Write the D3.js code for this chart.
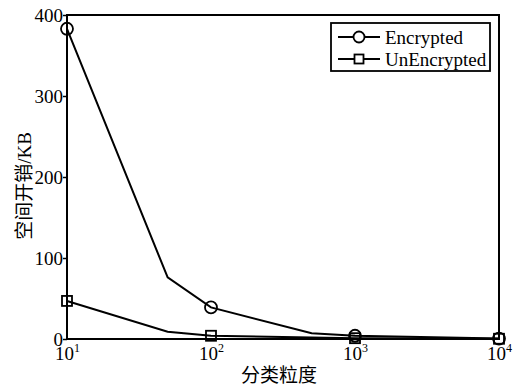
<!DOCTYPE html>
<html>
<head>
<meta charset="utf-8">
<script src="https://cdn.jsdelivr.net/npm/d3@7"></script>
<style>
body{margin:0;background:#fff;}
text{font-family:"Liberation Serif","Noto Sans CJK SC",serif;fill:#000;}
</style>
</head>
<body>
<script>
//DATA
var encX = [10, 50, 100, 500, 1000, 10000];
var encY = [383, 76, 39, 7, 4, 0.5];
var encMarkX = [10, 100, 1000, 10000];
var encMarkY = [383, 39, 4, 0.5];
var unX = [10, 50, 100, 1000, 10000];
var unY = [47, 9, 4, 1, 0.3];
var unMarkX = [10, 100, 1000, 10000];
var unMarkY = [47, 4, 1, 0.3];
var xTicks = [10, 100, 1000, 10000];
var xExp = ['1', '2', '3', '4'];
var yTicks = [0, 100, 200, 300, 400];
var seriesNames = ['Encrypted', 'UnEncrypted'];

//SETTING UP THE CANVAS
var w = 517, h = 385;
var pLeft = 67, pTop = 15, pRight = 499, pBottom = 339;
var svg = d3.select("body").append("svg")
  .attr("width", w)
  .attr("height", h)
  .style("background-color", "white");

var x = d3.scaleLog().domain([10, 10000]).range([pLeft, pRight]);
var y = d3.scaleLinear().domain([0, 400]).range([pBottom, pTop]);

//AXES
var yAxis = svg.append('g')
  .attr('transform', 'translate(' + pLeft + ',0)')
  .call(d3.axisLeft(y).tickValues(yTicks).tickSize(4).tickFormat(d3.format('d')));
yAxis.select('.domain').remove();
yAxis.selectAll('line').attr('stroke', '#000').attr('stroke-width', 1.5);
yAxis.selectAll('text').attr('font-size', 19).attr('x', -4).attr('dy', '0.35em')
  .style('font-family', '"Liberation Serif",serif');

var xAxis = svg.append('g')
  .attr('transform', 'translate(0,' + pBottom + ')')
  .call(d3.axisBottom(x).tickValues(xTicks).tickSize(0).tickFormat(''));
xAxis.select('.domain').remove();
xAxis.selectAll('.tick').each(function(d, i) {
  var t = d3.select(this).append('text')
    .attr('y', 21)
    .attr('text-anchor', 'middle')
    .attr('font-size', 19)
    .style('font-family', '"Liberation Serif",serif');
  t.append('tspan').text('10');
  t.append('tspan').attr('dy', -8).attr('font-size', 12).text(xExp[i]);
});

//FRAME
svg.append('rect')
  .attr('x', pLeft).attr('y', pTop)
  .attr('width', pRight - pLeft).attr('height', pBottom - pTop)
  .attr('fill', 'none').attr('stroke', '#000').attr('stroke-width', 2);

//LINES
var line = d3.line().x(function(d){ return x(d[0]); }).y(function(d){ return y(d[1]); });
var encData = encX.map(function(v, i){ return [v, encY[i]]; });
var unData = unX.map(function(v, i){ return [v, unY[i]]; });

svg.append('path').datum(unData).attr('d', line)
  .attr('fill', 'none').attr('stroke', '#000').attr('stroke-width', 2);
svg.append('path').datum(encData).attr('d', line)
  .attr('fill', 'none').attr('stroke', '#000').attr('stroke-width', 2);

//MARKERS
svg.selectAll('.sq').data(unMarkX).join('rect')
  .attr('class', 'sq')
  .attr('x', function(d){ return x(d) - 5; })
  .attr('y', function(d, i){ return y(unMarkY[i]) - 5; })
  .attr('width', 10).attr('height', 10)
  .attr('fill', 'none').attr('stroke', '#000').attr('stroke-width', 1.8);
svg.selectAll('.circ').data(encMarkX).join('circle')
  .attr('class', 'circ')
  .attr('cx', function(d){ return x(d); })
  .attr('cy', function(d, i){ return y(encMarkY[i]); })
  .attr('r', 6)
  .attr('fill', 'none').attr('stroke', '#000').attr('stroke-width', 1.8);

//LEGEND
var lg = svg.append('g').attr('transform', 'translate(331,23)');
lg.append('rect').attr('width', 159).attr('height', 48)
  .attr('fill', 'white').attr('stroke', '#000').attr('stroke-width', 1.8);
seriesNames.forEach(function(name, i) {
  var yy = 14 + i * 22;
  lg.append('line').attr('x1', 7).attr('x2', 49).attr('y1', yy).attr('y2', yy)
    .attr('stroke', '#000').attr('stroke-width', 2);
  if (i === 0) {
    lg.append('circle').attr('cx', 28).attr('cy', yy).attr('r', 5.5)
      .attr('fill', 'white').attr('stroke', '#000').attr('stroke-width', 1.8);
  } else {
    lg.append('rect').attr('x', 23.5).attr('y', yy - 4.5).attr('width', 9).attr('height', 9)
      .attr('fill', 'white').attr('stroke', '#000').attr('stroke-width', 1.8);
  }
  lg.append('text').attr('x', 54).attr('y', yy).attr('dy', '0.35em')
    .attr('font-size', 19).text(name);
});

//AXIS TITLES
svg.append('text')
  .attr('transform', 'translate(31,186) rotate(-90)')
  .attr('text-anchor', 'middle')
  .attr('font-size', 19)
  .text('空间开销/KB');
svg.append('text')
  .attr('x', 279).attr('y', 382)
  .attr('text-anchor', 'middle')
  .attr('font-size', 19)
  .text('分类粒度');
</script>
</body>
</html>
